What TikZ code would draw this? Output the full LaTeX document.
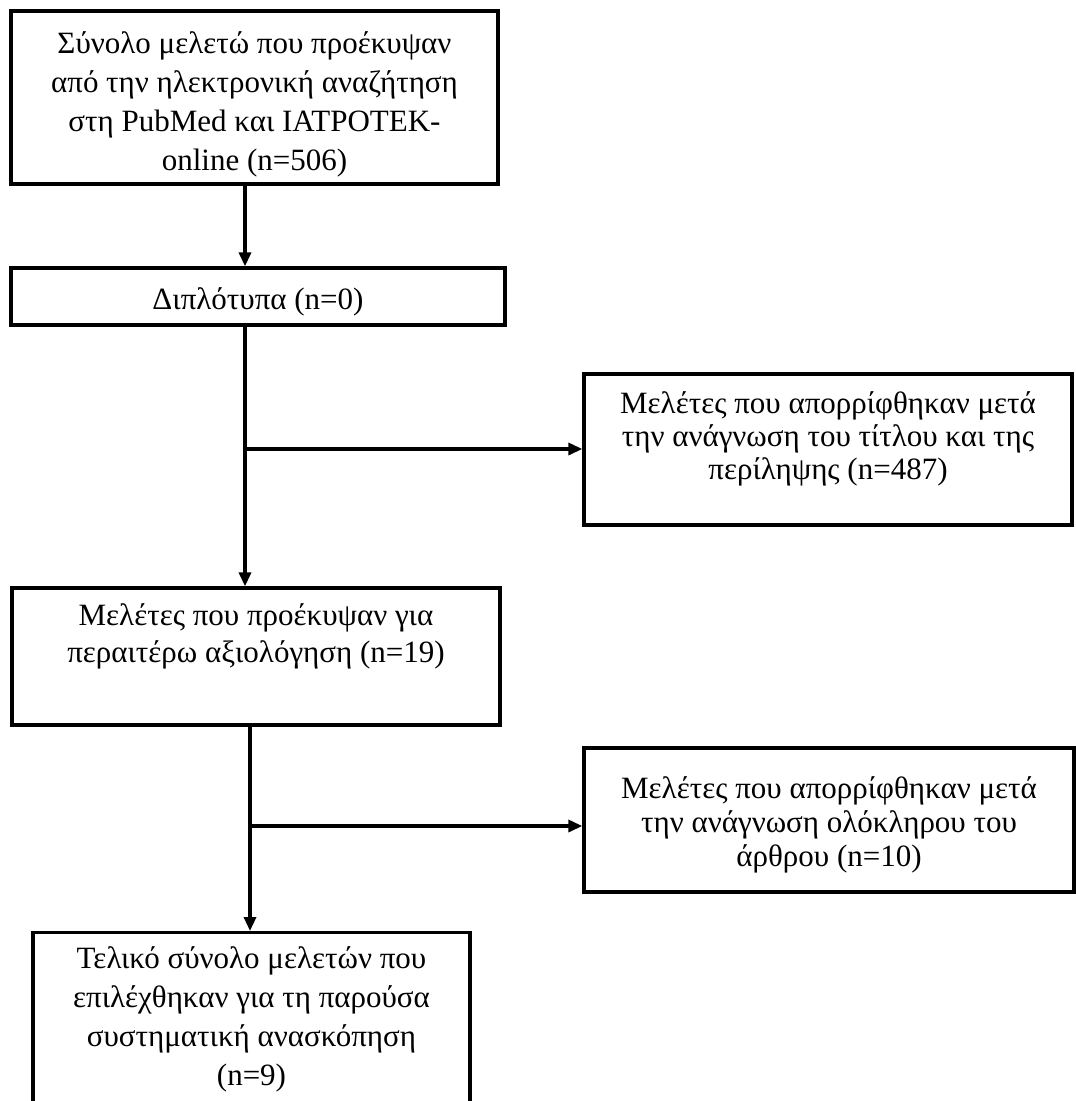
\documentclass[tikz,border=0pt]{standalone}
\usepackage{fontspec}
\setmainfont{Liberation Serif}
\usetikzlibrary{arrows.meta}

\begin{document}
\begin{tikzpicture}[x=1pt, y=-1pt, line width=3.3pt,
  every node/.style = {shape=rectangle, draw, align=center,
    inner sep=0pt, font=\fontsize{31}{39}\selectfont},
  flow/.style = {-{Triangle[length=14pt,width=12pt]}}]
  \useasboundingbox (0,0) rectangle (1076,1101);
  \clip (0,0) rectangle (1076,1101);
  % main column
  \node (total) [minimum width=487pt, minimum height=173pt] at (254.5,97.5)
    {Σύνολο μελετώ που προέκυψαν\\από την ηλεκτρονική αναζήτηση\\στη PubMed και ΙΑΤΡΟΤΕΚ-\\online (n=506)\\[-46pt]~};
  \node (dupl) [minimum width=494pt, minimum height=57pt] at (258,296.5)
    {Διπλότυπα (n=0)\\[-44pt]~};
  \node (screen) [minimum width=488pt, minimum height=137pt,
    font=\fontsize{31}{37}\selectfont] at (256,656.5)
    {Μελέτες που προέκυψαν για\\περαιτέρω αξιολόγηση (n=19)\\[10pt]~};
  \node (final) [minimum width=437pt, minimum height=174pt, anchor=north]
    at (251.5,931)
    {Τελικό σύνολο μελετών που\\επιλέχθηκαν για τη παρούσα\\συστηματική ανασκόπηση\\(n=9)};
  % excluded
  \node (excl1) [minimum width=488pt, minimum height=151pt,
    font=\fontsize{31}{33}\selectfont] at (828,449.5)
    {Μελέτες που απορρίφθηκαν μετά\\την ανάγνωση του τίτλου και της\\περίληψης (n=487)\\[-5pt]~};
  \node (excl2) [minimum width=490pt, minimum height=144pt,
    font=\fontsize{31}{34}\selectfont] at (829,820)
    {Μελέτες που απορρίφθηκαν μετά\\την ανάγνωση ολόκληρου του\\άρθρου (n=10)\\[-37pt]~};
  % connectors
  \coordinate (trunk1) at (245,0);
  \coordinate (trunk2) at (250,0);
  \coordinate (split1) at (245,449);
  \coordinate (split2) at (250,826);
  \draw[flow] (total.south -| trunk1) -- (dupl.north -| trunk1);
  \draw[flow] (dupl.south -| trunk1) -- (screen.north -| trunk1);
  \draw[flow] (split1) -- (excl1.west |- split1);
  \draw[flow] (screen.south -| trunk2) -- (final.north -| trunk2);
  \draw[flow] (split2) -- (excl2.west |- split2);
\end{tikzpicture}
\end{document}
